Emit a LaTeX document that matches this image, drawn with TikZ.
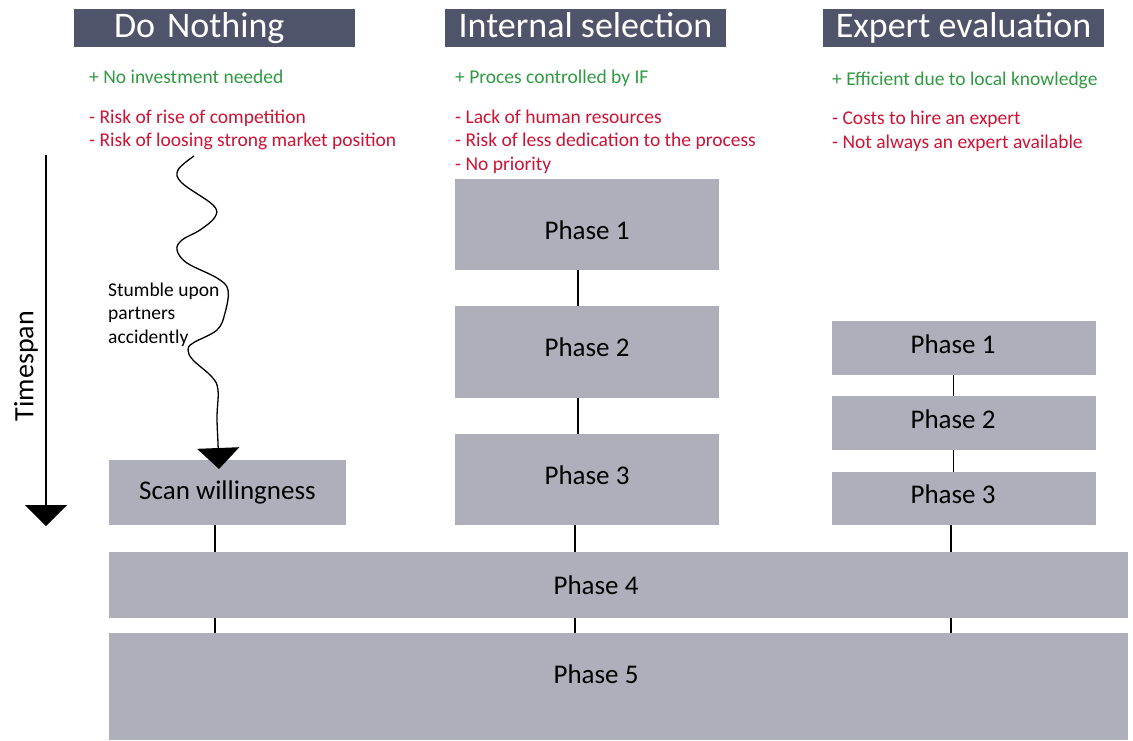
\documentclass[tikz,border=0pt]{standalone}
\usepackage{fontspec}
\setmainfont{Carlito}
\usetikzlibrary{arrows.meta, positioning}

\definecolor{hdrslate}{HTML}{50546A}
\definecolor{phasegray}{HTML}{AFAFBB}
\definecolor{progreen}{HTML}{2F9A41}
\definecolor{conred}{HTML}{CE1234}

\tikzset{
	header/.style = {fill=hdrslate, text=white, minimum width=281pt, minimum height=38pt, inner ysep=2pt, text height=26pt, text depth=8pt, outer sep=0pt, font=\fontsize{36}{40}\selectfont},
	phase/.style = {fill=phasegray, minimum width=264pt, outer sep=0pt, font=\fontsize{27}{32}\selectfont},
	raised/.style = {text height=19pt, text depth=10pt},
	phasetext/.style = {inner sep=0pt, font=\fontsize{27}{32}\selectfont},
	expertlabel/.style = {label={[phasetext, xshift=-11pt, yshift=4pt]center:#1}},
	pro/.style = {anchor=base west, text=progreen, align=left, inner sep=0pt, font=\fontsize{19.5}{23.5}\selectfont},
	con/.style = {pro, text=conred},
	link/.style = {line width=1.3pt},
	bigtip/.style = {line width=1.3pt, -{Triangle[width=42pt,length=21pt]}}
}

\begin{document}
\begin{tikzpicture}[x=1pt, y=-1pt]
	\useasboundingbox (0,0) rectangle (1133,740);

	% column headers
	\node[header, text width=201pt, align=left, inner xsep=40pt] (hnothing) at (214.5,28) {Do Nothing};
	\node[header] (hinternal) at (585.5,28) {Internal selection};
	\node[header] (hexpert) at (963.5,28) {Expert evaluation};

	% pros and cons (base = last line)
	\node[pro] (pnothing) at (89,83) {+ No investment needed};
	\node[con] (cnothing) at (89,146.5) {- Risk of rise of competition\\- Risk of loosing strong market position};
	\node[pro] (pinternal) at (455,83) {+ Proces controlled by IF};
	\node[con] (cinternal) at (455,170) {- Lack of human resources\\- Risk of less dedication to the process\\- No priority};
	\node[pro] (pexpert) at (832,85) {+ Efficient due to local knowledge};
	\node[con] (cexpert) at (832,148) {- Costs to hire an expert\\- Not always an expert available};

	% internal selection
	\node[phase, minimum height=91pt, text height=29pt, text depth=0pt] (ip1) at (587,224.5) {Phase 1};
	\node[phase, raised, minimum height=92pt, below=36pt of ip1] (ip2) {Phase 2};
	\node[phase, raised, minimum height=91pt, below=36pt of ip2] (ip3) {Phase 3};

	% expert evaluation
	\node[phase, minimum height=54pt, expertlabel=Phase 1] (ep1) at (964,348) {};
	\node[phase, minimum height=54pt, below=21pt of ep1, expertlabel=Phase 2] (ep2) {};
	\node[phase, minimum height=53pt, below=22pt of ep2, expertlabel=Phase 3] (ep3) {};

	% do nothing
	\node[phase, minimum width=237pt, minimum height=65pt] (scan) at (227.5,492.5) {Scan willingness};

	% shared phases
	\node[phase, minimum width=1019pt, minimum height=66pt] (p4) at (618.5,585) {};
	\node[phase, minimum width=1019pt, minimum height=107pt, below=15pt of p4] (p5) {};
	\node[phasetext] (p4text) at (596,585) {Phase 4};
	\node[phasetext] (p5text) at (596,674) {Phase 5};

	% connectors
	\coordinate (xnothing) at (215,0);
	\coordinate (xinternal) at (575,0);
	\coordinate (xexpert) at (951,0);
	\draw[link] ([xshift=-9pt]ip1.south) -- ([xshift=-9pt]ip2.north);
	\draw[link] ([xshift=-9pt]ip2.south) -- ([xshift=-9pt]ip3.north);
	\draw[link] ([xshift=-10.5pt]ep1.south) -- ([xshift=-10.5pt]ep2.north);
	\draw[link] ([xshift=-10.5pt]ep2.south) -- ([xshift=-10.5pt]ep3.north);
	\foreach \col/\upper in {xnothing/scan, xinternal/ip3, xexpert/ep3}{
		\draw[link] (\upper.south -| \col) -- (p4.north -| \col);
		\draw[link] (p4.south -| \col) -- (p5.north -| \col);
	}

	% timespan arrow
	\coordinate (tstart) at (46,155);
	\coordinate (tend) at (46,526);
	\draw[bigtip] (tstart) -- (tend);
	\node[rotate=90, inner sep=0pt, font=\fontsize{28}{32}\selectfont] (timespan) at (26,366) {Timespan};

	% random search
	\coordinate (wend) at ([xshift=-8.5pt,yshift=-9pt]scan.north);
	\draw[bigtip] plot[smooth, tension=0.6] coordinates {(194,156) (178,170) (182,183) (213,205) (215,217) (200,230) (182,240) (177,250) (187,263) (217,278) (228,290) (225,313) (217,330) (193,343) (188,350) (193,360) (212,377) (218,390) (217,417) (218,443) (wend)};
	\node[anchor=base west, align=left, inner sep=0pt, font=\fontsize{19.5}{23.5}\selectfont] (stumble) at (108,343) {Stumble upon\\partners\\accidently};
\end{tikzpicture}
\end{document}
